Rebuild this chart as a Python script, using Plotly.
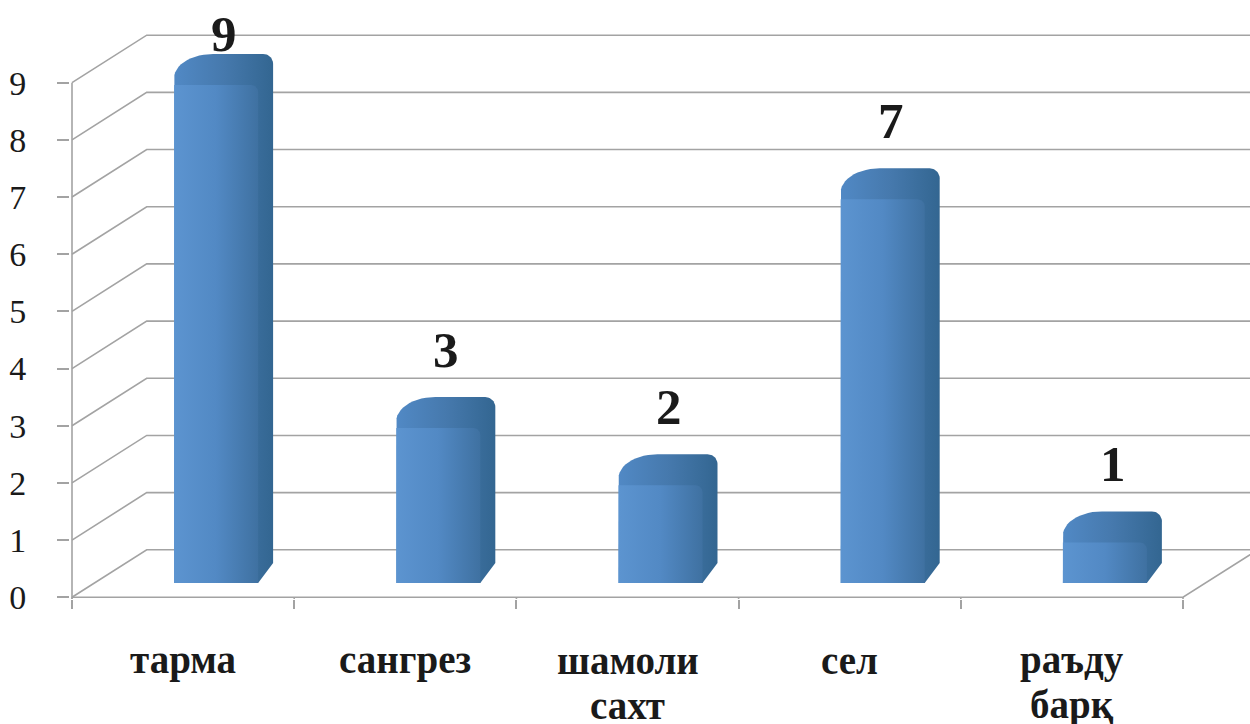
import numpy as np
import plotly.graph_objects as go

# ---- data ----
categories = ["тарма", "сангрез", "шамоли<br>сахт", "сел", "раъду<br>барқ"]
values = [9, 3, 2, 7, 1]
y_ticks = list(range(0, 10))

# ---- geometry / layout (pixel helpers) ----
W, H = 1250, 724
ML, MT, MR, MB = 70, 0, 0, 125
PXU, PYU = 222.2, 57.18          # pixels per x unit / y unit
plot_w = W - ML - MR
plot_h = H - MT - MB
ymax = 597.3 / PYU
ymin = ymax - plot_h / PYU
xmin = -0.5 - 2 / PXU
xmax = xmin + plot_w / PXU
SERIF = "Liberation Serif, Times New Roman, serif"


def hx(p):
    return p / PXU


def hy(p):
    return p / PYU


DX, DY = hx(74.7), hy(47.5)
n_cat = len(categories)
GRID = "#A3A3A3"

fig = go.Figure()

# ---- 3D walls / gridlines ----
gx, gy = [], []
for v in y_ticks:
    gx += [-0.5, -0.5 + DX, xmax + 1, None]
    gy += [v, v + DY, v + DY, None]
gx += [-0.5, n_cat - 0.5, n_cat - 0.5 + DX, None]
gy += [0, 0, DY, None]
gx += [-0.5, -0.5, None]
gy += [ymin, max(y_ticks), None]
for b in range(n_cat + 1):
    gx += [b - 0.5, b - 0.5, None]
    gy += [0, ymin, None]
fig.add_trace(go.Scatter(x=gx, y=gy, mode="lines", line=dict(color=GRID, width=1.6),
                         hoverinfo="skip", showlegend=False))


def arc(cx, cy, rx, ry, a0, a1, n=14):
    t = np.linspace(a0, a1, n)
    return list(cx + rx * np.cos(t)), list(cy + ry * np.sin(t))


SIL_CS = [[0, "#5189C5"], [0.5, "#4679AD"], [1, "#336691"]]
FACE_CS = [[0, "#5C94D0"], [0.5, "#5289C4"], [1, "#3F71A1"]]

for i, v in enumerate(values):
    xL = i + hx(-9)
    xR = xL + hx(84)
    xS = xR + hx(15)
    yB = 0.25
    yT = v - 0.04
    yC = yT + hy(31)
    # silhouette (cap + side)
    sx, sy = [xL, xL], [yB, yT + hy(7)]
    ax, ay = arc(xL + hx(39), yT + hy(7), hx(39), yC - (yT + hy(7)), np.pi, np.pi / 2)
    sx += ax; sy += ay
    ax, ay = arc(xS - hx(10), yC - hy(10), hx(10), hy(10), np.pi / 2, 0)
    sx += ax; sy += ay
    sx += [xS, xR, xL]
    sy += [yB + hy(20), yB, yB]
    fig.add_trace(go.Scatter(x=sx, y=sy, mode="lines", fill="toself",
                             fillgradient=dict(type="horizontal", colorscale=SIL_CS),
                             line=dict(width=0), hoverinfo="skip", showlegend=False))
    # front face
    fx, fy = [xL, xL], [yB, yT]
    ax, ay = arc(xR - hx(7), yT - hy(7), hx(7), hy(7), np.pi / 2, 0)
    fx += ax; fy += ay
    fx += [xR, xL]
    fy += [yB, yB]
    fig.add_trace(go.Scatter(x=fx, y=fy, mode="lines", fill="toself",
                             fillgradient=dict(type="horizontal", colorscale=FACE_CS),
                             line=dict(width=0), hoverinfo="skip", showlegend=False))
    # data label
    yc = min(yC + hy(47), ymax - hy(34))
    fig.add_annotation(x=xL + hx(50), y=yc, text="<b>%d</b>" % v, showarrow=False,
                       xanchor="center", yanchor="middle",
                       font=dict(family=SERIF, size=51, color="#1a1a1a"))

# ---- category labels (one annotation per text line, tight line spacing) ----
LABEL_Y0, LABEL_DY = 660, 45   # pixel centre of first line, line pitch
for i, c in enumerate(categories):
    for k, line in enumerate(c.split("<br>")):
        py = LABEL_Y0 + k * LABEL_DY
        fig.add_annotation(x=i, xref="x", y=(plot_h - py) / plot_h, yref="paper",
                           text="<b>%s</b>" % line, showarrow=False,
                           xanchor="center", yanchor="middle",
                           font=dict(family=SERIF, size=39, color="#1a1a1a"))

fig.update_layout(
    width=W, height=H,
    margin=dict(l=ML, r=MR, t=MT, b=MB, autoexpand=False),
    paper_bgcolor="white", plot_bgcolor="white",
    showlegend=False,
    xaxis=dict(range=[xmin, xmax], showgrid=False, zeroline=False, showline=False,
               automargin=False, fixedrange=True,
               tickmode="array", tickvals=[b - 0.5 for b in range(n_cat + 1)],
               showticklabels=False,
               ticks="outside", ticklen=9, tickcolor=GRID, tickwidth=1.6),
    yaxis=dict(range=[ymin, ymax], showgrid=False, zeroline=False, showline=False,
               automargin=False, fixedrange=True,
               tickmode="array", tickvals=y_ticks, ticktext=[str(t) for t in y_ticks],
               ticks="outside", ticklen=12, tickcolor=GRID, tickwidth=1.6,
               ticklabelstandoff=24,
               tickfont=dict(family=SERIF, size=34, color="#1a1a1a")),
)

fig.write_html("out.html", config={"displayModeBar": False},
               post_script="document.body.style.margin='0';")
